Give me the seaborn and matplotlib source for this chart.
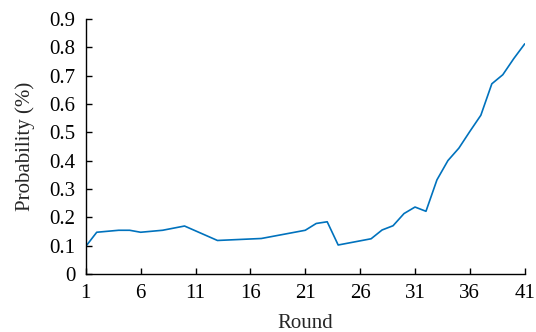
import matplotlib
matplotlib.use("Agg")
import matplotlib.pyplot as plt
import pandas as pd
import seaborn as sns

rounds = [1, 2, 4, 5, 6, 8, 10, 13, 17, 21, 22, 23, 24, 27, 28, 29, 30, 31,
          32, 33, 34, 35, 36, 37, 38, 39, 40, 41]
probability = [0.097, 0.147, 0.154, 0.154, 0.147, 0.154, 0.169, 0.118, 0.125,
               0.154, 0.178, 0.184, 0.102, 0.124, 0.155, 0.170, 0.213, 0.236,
               0.221, 0.332, 0.400, 0.444, 0.503, 0.560, 0.671, 0.703, 0.760,
               0.812]
x_ticks = [1, 6, 11, 16, 21, 26, 31, 36, 41]
y_ticks = [0, 0.1, 0.2, 0.3, 0.4, 0.5, 0.6, 0.7, 0.8, 0.9]
y_tick_labels = ["0", "0.1", "0.2", "0.3", "0.4", "0.5", "0.6", "0.7", "0.8", "0.9"]

df = pd.DataFrame({"Round": rounds, "Probability": probability})

sns.set_style("ticks")
plt.rcParams["font.family"] = ["Liberation Serif", "DejaVu Serif"]

fig = plt.figure(figsize=(5.36, 3.32), dpi=100)
ax = fig.add_axes([0.160, 0.175, 0.819, 0.768])
sns.lineplot(data=df, x="Round", y="Probability", color="#0072BD", linewidth=1.2, ax=ax)

ax.set_xlim(1, 41)
ax.set_ylim(0, 0.9)
ax.set_xticks(x_ticks)
ax.set_yticks(y_ticks)
ax.set_yticklabels(y_tick_labels)
ax.tick_params(direction="in", length=4, width=1, labelsize=15, colors="black")
ax.tick_params(axis="y", pad=7.5)
ax.tick_params(axis="x", pad=7.5)
ax.set_xlabel("Round", fontsize=15, labelpad=7.5)
ax.set_ylabel("Probability (%)", fontsize=15, labelpad=10)
for side in ["top", "right"]:
    ax.spines[side].set_visible(False)
for side in ["left", "bottom"]:
    ax.spines[side].set_color("black")
    ax.spines[side].set_linewidth(1)

fig.savefig("out.png", dpi=100)
